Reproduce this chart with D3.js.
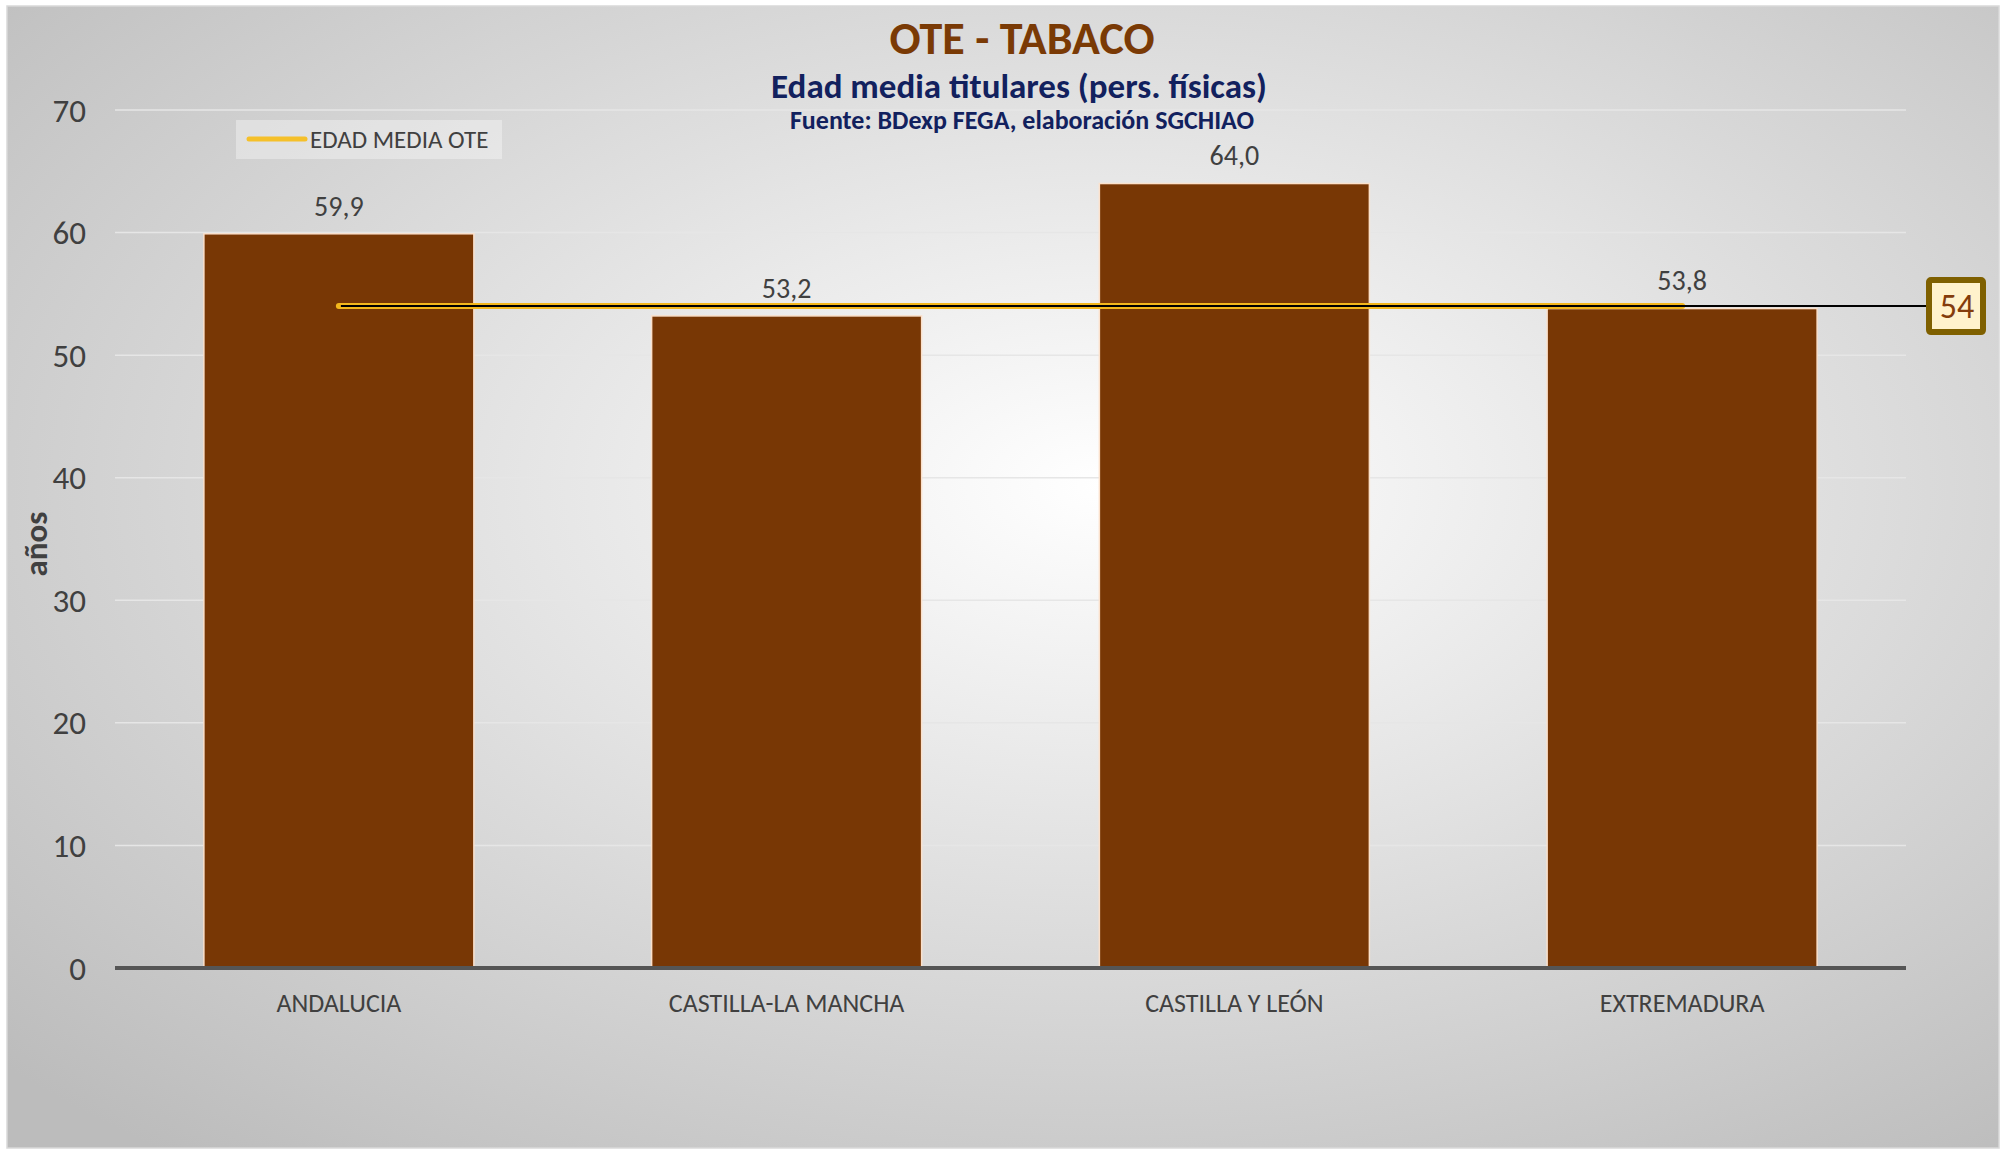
<!DOCTYPE html>
<html>
<head>
<meta charset="utf-8">
<script src="https://cdn.jsdelivr.net/npm/d3@7"></script>
<style>
  body { margin: 0; background: #fff; }
  svg text { font-family: Carlito, Calibri, "Open Sans", "Noto Sans", sans-serif; }
</style>
</head>
<body>
<svg id="chart" width="2006" height="1150"></svg>
<script>
// data
const regions = ['ANDALUCIA', 'CASTILLA-LA MANCHA', 'CASTILLA Y LEÓN', 'EXTREMADURA'];
const edadMedia = [59.9, 53.2, 64.0, 53.8];
const mediaOte = 54;
const yTicks = [0, 10, 20, 30, 40, 50, 60, 70];

const plot = {left: 115, right: 1906, top: 110, bottom: 968};

const svg = d3.select('#chart');
const defs = svg.append('defs');

let grad = defs.append('radialGradient')
    .attr('id', 'bg')
    .attr('cx', '55%').attr('cy', '42%').attr('r', '75%');
grad.append('stop').attr('offset', '0%').attr('stop-color', '#ffffff');
grad.append('stop').attr('offset', '100%').attr('stop-color', '#bcbcbc');

// chart area
svg.append('rect')
    .attr('x', 7).attr('y', 6)
    .attr('width', 1992).attr('height', 1142)
    .attr('fill', 'url(#bg)')
    .attr('stroke', '#d9d9d9')
    .attr('stroke-width', 1.5);

let x = d3.scaleBand()
    .domain(regions)
    .range([plot.left, plot.right])
    .paddingInner(0.397)
    .paddingOuter(0.1985);

let y = d3.scaleLinear()
    .domain([0, 70])
    .range([plot.bottom, plot.top]);

// gridlines
svg.append('g')
    .selectAll('line')
    .data(yTicks.filter(d => d > 0))
    .enter()
    .append('line')
    .attr('x1', plot.left).attr('x2', plot.right)
    .attr('y1', d => y(d)).attr('y2', d => y(d))
    .attr('stroke', '#e6e6e6')
    .attr('stroke-width', 1.5);

// y tick labels
svg.append('g')
    .selectAll('text')
    .data(yTicks)
    .enter()
    .append('text')
    .attr('x', 86)
    .attr('y', d => y(d))
    .attr('dy', '0.35em')
    .attr('text-anchor', 'end')
    .attr('font-size', 33)
    .attr('fill', '#404040')
    .text(d => d);

// y axis title
svg.append('text')
    .attr('transform', 'translate(35,544) rotate(-90)')
    .attr('dy', '0.35em')
    .attr('text-anchor', 'middle')
    .attr('font-size', 33)
    .attr('font-weight', 'bold')
    .attr('fill', '#404040')
    .text('años');

// bars
svg.append('g')
    .selectAll('rect')
    .data(regions)
    .enter()
    .append('rect')
    .attr('x', d => x(d))
    .attr('y', (d, i) => y(edadMedia[i]))
    .attr('width', x.bandwidth())
    .attr('height', (d, i) => y(0) - y(edadMedia[i]))
    .attr('fill', '#783705')
    .attr('stroke', '#fbe1cc')
    .attr('stroke-width', 1.5);

// data labels
svg.append('g')
    .selectAll('text')
    .data(regions)
    .enter()
    .append('text')
    .attr('x', d => x(d) + x.bandwidth() / 2)
    .attr('y', (d, i) => y(edadMedia[i]) - 28)
    .attr('dy', '0.35em')
    .attr('text-anchor', 'middle')
    .attr('font-size', 28)
    .attr('fill', '#404040')
    .text((d, i) => edadMedia[i].toFixed(1).replace('.', ','));

// x axis line
svg.append('line')
    .attr('x1', plot.left).attr('x2', plot.right)
    .attr('y1', y(0)).attr('y2', y(0))
    .attr('stroke', '#555555')
    .attr('stroke-width', 4);

// x labels
svg.append('g')
    .selectAll('text')
    .data(regions)
    .enter()
    .append('text')
    .attr('x', d => x(d) + x.bandwidth() / 2)
    .attr('y', 1003)
    .attr('dy', '0.35em')
    .attr('text-anchor', 'middle')
    .attr('font-size', 26)
    .attr('fill', '#404040')
    .text(d => d);

// mean line
let xFirst = x(regions[0]) + x.bandwidth() / 2;
let xLast = x(regions[regions.length - 1]) + x.bandwidth() / 2;
let boxX = 1929, boxW = 54, boxH = 52;

svg.append('line')
    .attr('x1', xFirst).attr('x2', xLast)
    .attr('y1', y(mediaOte)).attr('y2', y(mediaOte))
    .attr('stroke', '#f3b71c')
    .attr('stroke-width', 6)
    .attr('stroke-linecap', 'round');
svg.append('line')
    .attr('x1', xFirst + 2).attr('x2', boxX)
    .attr('y1', y(mediaOte)).attr('y2', y(mediaOte))
    .attr('stroke', '#000')
    .attr('stroke-width', 2);

// mean value box
svg.append('rect')
    .attr('x', boxX).attr('y', y(mediaOte) - boxH / 2)
    .attr('width', boxW).attr('height', boxH)
    .attr('rx', 2)
    .attr('fill', '#fff2cc')
    .attr('stroke', '#7f6000')
    .attr('stroke-width', 6);
svg.append('text')
    .attr('x', boxX + boxW / 2 + 1).attr('y', y(mediaOte))
    .attr('dy', '0.35em')
    .attr('text-anchor', 'middle')
    .attr('font-size', 34)
    .attr('fill', '#843c0c')
    .text(mediaOte);

// legend
svg.append('rect')
    .attr('x', 236).attr('y', 120)
    .attr('width', 266).attr('height', 39)
    .attr('fill', '#ffffff')
    .attr('fill-opacity', 0.35);
svg.append('line')
    .attr('x1', 249).attr('x2', 305)
    .attr('y1', 139).attr('y2', 139)
    .attr('stroke', '#f5c02a')
    .attr('stroke-width', 5)
    .attr('stroke-linecap', 'round');
svg.append('text')
    .attr('x', 310).attr('y', 139)
    .attr('dy', '0.35em')
    .attr('font-size', 25)
    .attr('fill', '#404040')
    .text('EDAD MEDIA OTE');

// titles
svg.append('text')
    .attr('x', 1022).attr('y', 38)
    .attr('dy', '0.35em')
    .attr('text-anchor', 'middle')
    .attr('font-size', 46)
    .attr('font-weight', 'bold')
    .attr('fill', '#7a3a05')
    .text('OTE - TABACO');
svg.append('text')
    .attr('x', 1019).attr('y', 86)
    .attr('dy', '0.35em')
    .attr('text-anchor', 'middle')
    .attr('font-size', 35)
    .attr('font-weight', 'bold')
    .attr('fill', '#12215e')
    .text('Edad media titulares (pers. físicas)');
svg.append('text')
    .attr('x', 1022).attr('y', 120)
    .attr('dy', '0.35em')
    .attr('text-anchor', 'middle')
    .attr('font-size', 26)
    .attr('font-weight', 'bold')
    .attr('fill', '#12215e')
    .text('Fuente: BDexp FEGA, elaboración SGCHIAO');
</script>
</body>
</html>
